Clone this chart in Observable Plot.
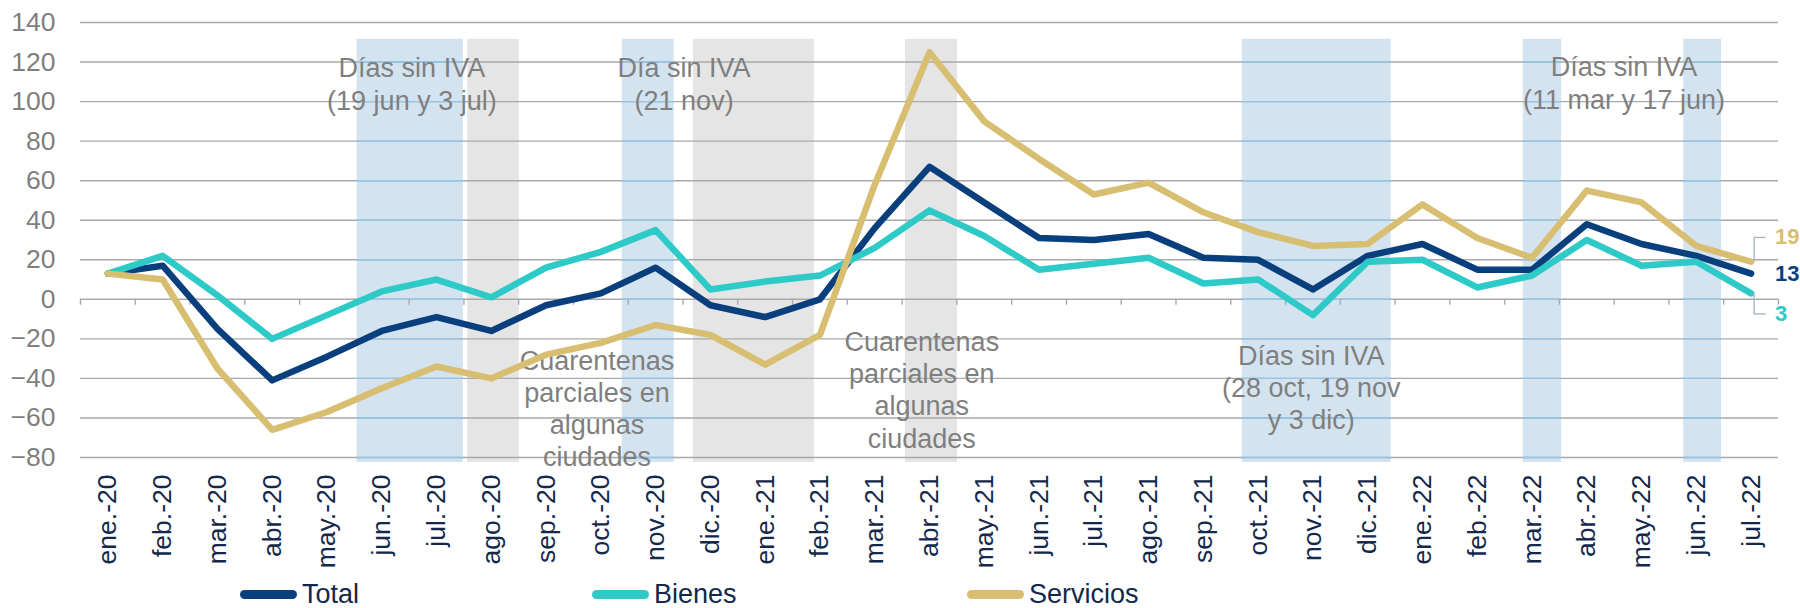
<!DOCTYPE html>
<html><head><meta charset="utf-8">
<script src="https://cdn.jsdelivr.net/npm/d3@7"></script>
<script src="https://cdn.jsdelivr.net/npm/@observablehq/plot@0.6"></script>
<style>
body{margin:0;background:#fff;font-family:"Liberation Sans",Arial,sans-serif;}
#wrap{position:relative;width:1800px;height:608px;overflow:hidden;background:#fff}
.leg{position:absolute;top:580px;height:28px;display:flex;align-items:center;font-size:27px;color:#13284b;white-space:nowrap}
.sw{width:57px;height:9px;border-radius:4.5px;margin-right:5px}
</style></head><body><div id="wrap"></div>
<script>
const months = ["ene.-20","feb.-20","mar.-20","abr.-20","may.-20","jun.-20","jul.-20","ago.-20","sep.-20","oct.-20","nov.-20","dic.-20",
  "ene.-21","feb.-21","mar.-21","abr.-21","may.-21","jun.-21","jul.-21","ago.-21","sep.-21","oct.-21","nov.-21","dic.-21",
  "ene.-22","feb.-22","mar.-22","abr.-22","may.-22","jun.-22","jul.-22"];
const total     = [13,17,-15,-41,-29,-16,-9,-16,-3,3,16,-3,-9,0,36,67,49,31,30,33,21,20,5,22,28,15,15,38,28,22,13];
const bienes    = [13,22,2,-20,-8,4,10,1,16,24,35,5,9,12,26,45,32,15,18,21,8,10,-8,19,20,6,12,30,17,19,3];
const servicios = [13,10,-35,-66,-57,-45,-34,-40,-28,-22,-13,-18,-33,-18,58,125,90,71,53,59,44,34,27,28,48,31,21,55,49,27,19];
const seriesNames  = ["Total","Bienes","Servicios"];
const seriesColors = ["#0a3f7e","#2ecac7","#d8be70"];
const endLabels = ["13","3","19"];
const endLabelY = [12.8,-7.4,31.3];
const yTicks = [-80,-60,-40,-20,0,20,40,60,80,100,120,140];
// shaded periods (month-index positions)
const blueStart = [4.55, 9.39, 20.71, 25.84, 28.77];
const blueEnd   = [6.49, 10.34, 23.43, 26.54, 29.46];
const grayStart = [6.57, 10.69, 14.56];
const grayEnd   = [7.51, 12.9, 15.51];
const shadeTop = 131.5, shadeBottom = -82.5;
const noteTexts = ["Días sin IVA\n(19 jun y 3 jul)","Día sin IVA\n(21 nov)","Cuarentenas\nparciales en\nalgunas\nciudades",
  "Cuarentenas\nparciales en\nalgunas\nciudades","Días sin IVA\n(28 oct, 19 nov\ny 3 dic)","Días sin IVA\n(11 mar y 17 jun)"];
const noteX = [5.55, 10.52, 8.93, 14.86, 21.97, 27.68];
const noteY = [109.3, 109.3, -54.8, -45.4, -44.2, 109.8];

const seriesVals = [total, bienes, servicios];
const rows = seriesVals.flatMap((vals, s) => vals.map((v, i) => ({i, v, s: seriesNames[s]})));
const last = months.length - 1;
const ends = seriesNames.map((s, k) => ({s, v: seriesVals[k][last], ly: endLabelY[k], t: endLabels[k], c: seriesColors[k]}));
const leaders = ends.filter(d => d.s !== "Total");
const blue = blueStart.map((a, k) => ({a, b: blueEnd[k]}));
const gray = grayStart.map((a, k) => ({a, b: grayEnd[k]}));
const blueGrid = blue.flatMap(r => yTicks.filter(t => t <= shadeTop).map(t => ({a: r.a, b: r.b, t})));
const notes = noteTexts.map((t, k) => ({t, x: noteX[k], y: noteY[k]}));
const bounds = d3.range(months.length + 1).map(i => i - 0.5);

const chart = Plot.plot({
  width: 1800, height: 580,
  marginLeft: 80, marginRight: 22, marginTop: 22, marginBottom: 123,
  style: {fontFamily: "Liberation Sans, Arial, sans-serif", background: "white"},
  x: {type: "linear", domain: [-0.5, last + 0.5]},
  y: {domain: [-80, 140]},
  color: {domain: seriesNames, range: seriesColors},
  marks: [
    Plot.rect(blue, {x1: "a", x2: "b", y1: shadeBottom, y2: shadeTop, fill: "#d3e4f0"}),
    Plot.rect(gray, {x1: "a", x2: "b", y1: shadeBottom, y2: shadeTop, fill: "#e5e5e5"}),
    Plot.gridY(yTicks, {stroke: "#a9a9a9", strokeOpacity: 1, strokeWidth: 1.4}),
    Plot.ruleY(blueGrid, {y: "t", x1: "a", x2: "b", stroke: "#93c6ea", strokeWidth: 1.4}),
    Plot.ruleX(bounds, {y1: 0, y2: -3, stroke: "#a9a9a9", strokeWidth: 1.4}),
    Plot.axisY(yTicks, {tickSize: 0, tickPadding: 25, fontSize: 26.5, color: "#7f7f7f"}),
    Plot.axisX(d3.range(months.length), {tickFormat: i => months[i], tickRotate: -90, tickSize: 0, tickPadding: 17, fontSize: 26.5, color: "#13284b"}),
    Plot.text(notes, {x: "x", y: "y", text: "t", fontSize: 27, lineHeight: 1.19, fill: "#7f7f7f", textAnchor: "middle"}),
    Plot.line(rows, {x: "i", y: "v", z: "s", stroke: "s", strokeWidth: 6.5, strokeLinejoin: "round", strokeLinecap: "round"}),
    Plot.link(leaders, {x1: last, x2: last, y1: "v", y2: "ly", dx: 3, stroke: "#9db3cc", strokeWidth: 1.3}),
    Plot.ruleY(leaders, {y: "ly", x1: last, x2: last + 0.22, dx: 3, stroke: "#9db3cc", strokeWidth: 1.3}),
    Plot.text(ends, {x: last, y: "ly", text: "t", fill: "c", dx: 24, textAnchor: "start", fontSize: 22, fontWeight: "bold"})
  ]
});
const wrap = document.getElementById("wrap");
wrap.appendChild(chart);
const legX = [240, 592, 967];
seriesNames.forEach((s, k) => {
  const d = document.createElement("div");
  d.className = "leg";
  d.style.left = legX[k] + "px";
  d.innerHTML = `<span class="sw" style="background:${seriesColors[k]}"></span><span>${s}</span>`;
  wrap.appendChild(d);
});
</script></body></html>
